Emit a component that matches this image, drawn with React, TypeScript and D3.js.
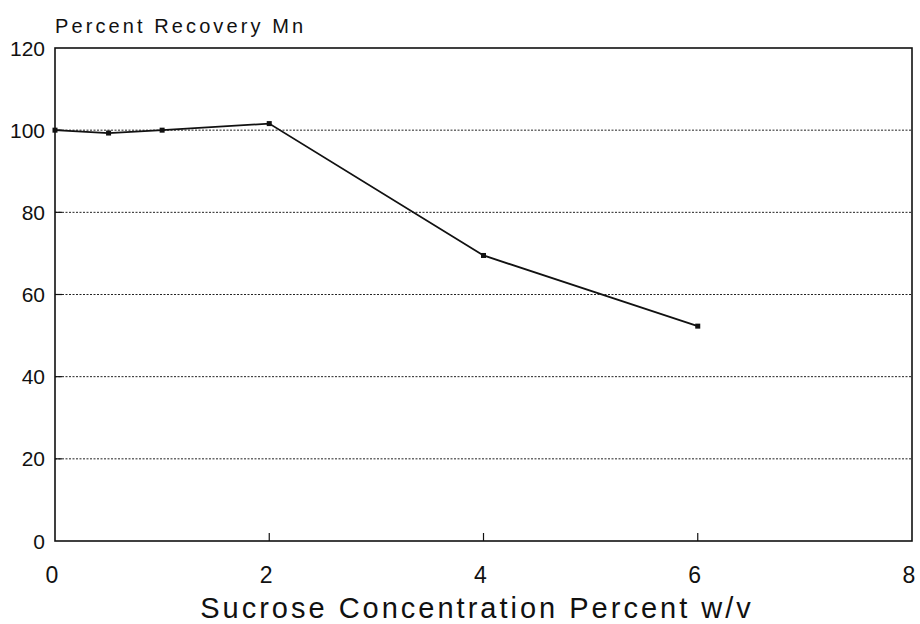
import React, { useEffect, useRef } from 'react';
import * as d3 from 'd3';

const sucrose = [0, 0.5, 1, 2, 4, 6];
const recovery = [100, 99.3, 100, 101.6, 69.5, 52.3];
const xTicks = [0, 2, 4, 6, 8];
const yTicks = [0, 20, 40, 60, 80, 100, 120];
const gridValues = [20, 40, 60, 80, 100];

const W = 920;
const H = 624;
const FONT = '"Liberation Sans", Arial, sans-serif';

const App: React.FC = () => {
  const svgRef = useRef<SVGSVGElement>(null);

  useEffect(() => {
    if (!svgRef.current) return;
    const svg = d3.select(svgRef.current);
    svg.selectAll('*').remove();

    const left = 55;
    const right = 912;
    const top = 48;
    const bottom = 541;

    const x = d3.scaleLinear().domain([0, 8]).range([left, right]);
    const y = d3.scaleLinear().domain([0, 120]).range([bottom, top]);

    svg.append('rect').attr('width', W).attr('height', H).attr('fill', '#fff');

    // dotted gridlines
    svg.append('g')
      .selectAll('line')
      .data(gridValues)
      .join('line')
      .attr('x1', left)
      .attr('x2', right)
      .attr('y1', d => y(d))
      .attr('y2', d => y(d))
      .attr('stroke', '#222')
      .attr('stroke-width', 1)
      .attr('stroke-dasharray', '2,1.5');

    // frame
    svg.append('rect')
      .attr('x', left)
      .attr('y', top)
      .attr('width', right - left)
      .attr('height', bottom - top)
      .attr('fill', 'none')
      .attr('stroke', '#111')
      .attr('stroke-width', 1.6);

    // small ticks
    svg.append('g')
      .selectAll('line')
      .data(xTicks.slice(1, -1))
      .join('line')
      .attr('x1', d => x(d))
      .attr('x2', d => x(d))
      .attr('y1', bottom)
      .attr('y2', bottom - 8)
      .attr('stroke', '#111')
      .attr('stroke-width', 1.2);

    svg.append('g')
      .selectAll('line')
      .data(yTicks.slice(1, -1))
      .join('line')
      .attr('x1', left)
      .attr('x2', left + 7)
      .attr('y1', d => y(d))
      .attr('y2', d => y(d))
      .attr('stroke', '#111')
      .attr('stroke-width', 1.2);

    // y tick labels
    svg.append('g')
      .selectAll('text')
      .data(yTicks)
      .join('text')
      .attr('x', left - 10)
      .attr('y', d => y(d))
      .attr('dy', '0.36em')
      .attr('text-anchor', 'end')
      .attr('font-family', FONT)
      .attr('font-size', 21)
      .attr('fill', '#111')
      .text(d => d);

    // x tick labels
    svg.append('g')
      .selectAll('text')
      .data(xTicks)
      .join('text')
      .attr('x', d => x(d) - 3)
      .attr('y', 583)
      .attr('text-anchor', 'middle')
      .attr('font-family', FONT)
      .attr('font-size', 23)
      .attr('fill', '#111')
      .text(d => d);

    // titles
    svg.append('text')
      .attr('x', 55)
      .attr('y', 33)
      .attr('font-family', FONT)
      .attr('font-size', 20)
      .attr('letter-spacing', 3.1)
      .attr('fill', '#111')
      .text('Percent Recovery Mn');

    svg.append('text')
      .attr('x', 477)
      .attr('y', 618)
      .attr('text-anchor', 'middle')
      .attr('font-family', FONT)
      .attr('font-size', 29)
      .attr('letter-spacing', 3)
      .attr('fill', '#111')
      .text('Sucrose Concentration Percent w/v');

    // data line
    const pts = sucrose.map((s, i) => [s, recovery[i]] as [number, number]);
    const line = d3.line<[number, number]>()
      .x(d => x(d[0]))
      .y(d => y(d[1]));

    svg.append('path')
      .datum(pts)
      .attr('d', line)
      .attr('fill', 'none')
      .attr('stroke', '#111')
      .attr('stroke-width', 1.8);

    svg.append('g')
      .selectAll('rect')
      .data(pts)
      .join('rect')
      .attr('x', d => x(d[0]) - 2.5)
      .attr('y', d => y(d[1]) - 2.5)
      .attr('width', 5)
      .attr('height', 5)
      .attr('fill', '#111');
  }, []);

  return (
    <svg
      ref={svgRef}
      width={W}
      height={H}
      style={{ position: 'absolute', top: 0, left: 0, display: 'block' }}
    />
  );
};

export default App;
